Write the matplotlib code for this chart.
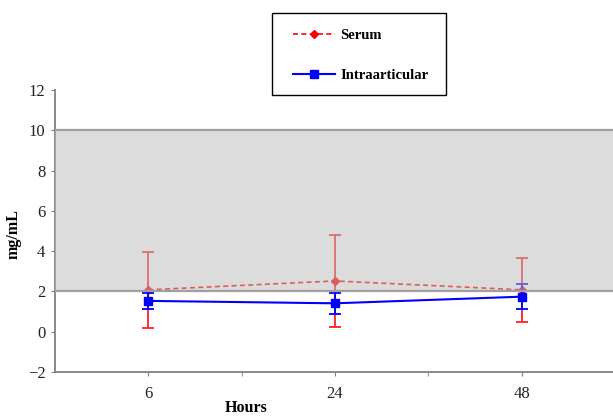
import matplotlib.pyplot as plt
from matplotlib.lines import Line2D
from matplotlib.patches import Rectangle

hours = ["6", "24", "48"]
serum_mean = [2.08, 2.52, 2.08]
serum_sd = [1.88, 2.28, 1.58]
intra_mean = [1.53, 1.41, 1.74]
intra_sd = [0.40, 0.53, 0.62]
band_low, band_high = 2, 10
y_ticks = [-2, 0, 2, 4, 6, 8, 10, 12]

plt.rcParams["font.family"] = ["Liberation Serif", "DejaVu Serif"]

W, H = 613, 416
fig = plt.figure(figsize=(W / 100, H / 100), dpi=100)
ax = fig.add_axes([55 / W, 44 / H, 560 / W, 282 / H])

pos = list(range(len(hours)))

ax.errorbar(pos, serum_mean, yerr=serum_sd, color="#ff0000", ecolor="#ff2020",
            elinewidth=1.3, capsize=4, capthick=1.3, linestyle=(0, (3, 2)),
            linewidth=1.2, marker="D", markersize=4, zorder=2)
ax.errorbar(pos, intra_mean, yerr=intra_sd, color="#0000ff", ecolor="#0000ff",
            elinewidth=1.3, capsize=4, capthick=1.3, linestyle="-",
            linewidth=1.5, marker="s", markersize=6, zorder=3)

# shaded reference range, drawn over the data like the original
ax.axhspan(band_low, band_high, facecolor="#bbbbbb", alpha=0.5, edgecolor="none", zorder=4)
ax.axhline(band_low, color="#a0a0a0", linewidth=1.6, zorder=5)
ax.axhline(band_high, color="#a0a0a0", linewidth=1.6, zorder=5)

ax.set_xlim(-0.5, 2.5)
ax.set_ylim(-2, 12)
ax.set_yticks(y_ticks)
ax.set_xticks(pos)
ax.set_xticklabels(hours)
ax.set_xticks([0.5, 1.5], minor=True)

for side in ("top", "right"):
    ax.spines[side].set_visible(False)
for side in ("left", "bottom"):
    ax.spines[side].set_color("#808080")
    ax.spines[side].set_linewidth(1.3)

ax.tick_params(axis="both", which="both", direction="out", length=3, color="#808080",
               labelsize=12, labelcolor="#222222")
ax.tick_params(axis="x", pad=7)
ax.tick_params(axis="y", pad=4)

ax.set_ylabel("mg/mL", fontsize=11.5, fontweight="bold")
ax.yaxis.set_label_coords(-0.06, 0.49)
ax.set_xlabel("Hours", fontsize=11.5, fontweight="bold")
ax.xaxis.set_label_coords(0.342, -0.10)

# legend frame drawn separately so it can match the original box size
fig.patches.append(Rectangle((272 / W, 1 - 95 / H), 174 / W, 82 / H, transform=fig.transFigure,
                             facecolor="white", edgecolor="black", linewidth=1.0, zorder=1))
handles = [
    Line2D([], [], color="#ff0000", linestyle=(0, (3, 2)), linewidth=1.2, marker="D", markersize=4),
    Line2D([], [], color="#0000ff", linestyle="-", linewidth=1.5, marker="s", markersize=6),
]
leg = fig.legend(handles, ["Serum", "Intraarticular"], loc="upper left",
                 bbox_to_anchor=(293 / W, 1 - 29 / H), frameon=False,
                 prop={"weight": "bold", "size": 10.5},
                 handlelength=2.9, labelspacing=1.85, borderpad=0, handletextpad=0.35,
                 borderaxespad=0)
leg.set_zorder(2)

fig.savefig("out.png", dpi=100)
